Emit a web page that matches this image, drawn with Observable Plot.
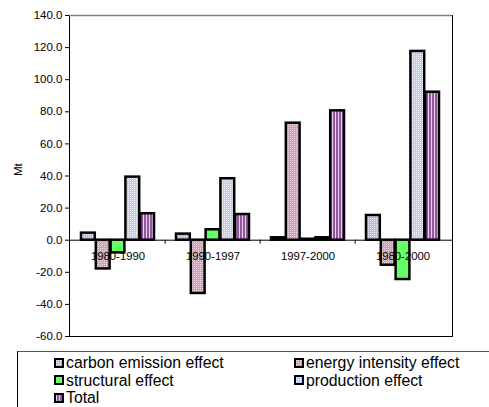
<!DOCTYPE html>
<html>
<head>
<meta charset="utf-8">
<script src="https://cdn.jsdelivr.net/npm/d3@7"></script>
<script src="https://cdn.jsdelivr.net/npm/@observablehq/plot@0.6"></script>
<style>
  body { margin: 0; background: #fff; font-family: Arial, "Liberation Sans", sans-serif; width: 489px; height: 407px; overflow: hidden; position: relative; }
  #chart { position: absolute; left: 0; top: 0; }
  #legend { position: absolute; left: 17px; top: 351px; width: 490px; height: 70px; border-top: 1px solid #555; border-left: 1px solid #000; box-sizing: border-box; padding-top: 2px; font-size: 15.8px; line-height: 17.5px; color: #000; }
  .item { position: absolute; white-space: nowrap; display: flex; align-items: center; }
</style>
</head>
<body>
<div id="chart"></div>
<div id="legend"></div>
<script>
// Decomposition of CO2 emission changes (Mt) by period
const periods = ["1980-1990", "1990-1997", "1997-2000", "1980-2000"];
const effects = ["carbon emission effect", "energy intensity effect", "structural effect", "production effect", "Total"];

const carbonEmission  = [4.4, 3.8, 1.5, 15.4];
const energyIntensity = [-17.9, -33.2, 72.9, -15.6];
const structural      = [-7.9, 6.5, 0.6, -24.5];
const production      = [39.3, 38.3, 1.5, 117.6];
const total           = [16.5, 16.0, 80.6, 92.2];

const yTicks = [-60, -40, -20, 0, 20, 40, 60, 80, 100, 120, 140];

const seriesValues = [carbonEmission, energyIntensity, structural, production, total];
const patternIds = ["pat-carbon", "pat-energy", "pat-struct", "pat-prod", "pat-total"];

// layout
const width = 489, height = 345;
const marginLeft = 69, marginRight = 37, marginTop = 15, marginBottom = 9;
const paddingInner = 0.227;
const step = (width - marginLeft - marginRight) / periods.length;
const barW = step * (1 - paddingInner) / effects.length;

// fill patterns for the bars
function patternDefs() {
  const defs = d3.create("svg:defs");
  const dotted = (id, base, dot) => {
    const p = defs.append("pattern").attr("id", id).attr("patternUnits", "userSpaceOnUse")
      .attr("width", 2).attr("height", 2);
    p.append("rect").attr("width", 2).attr("height", 2).attr("fill", base);
    p.append("rect").attr("width", 1).attr("height", 1).attr("fill", dot);
  };
  dotted("pat-carbon", "#b4b6f0", "#ececff");
  dotted("pat-energy", "#d49cb6", "#f2d6e4");
  dotted("pat-prod", "#b9ccfc", "#f0f4ff");
  const s = defs.append("pattern").attr("id", "pat-struct").attr("patternUnits", "userSpaceOnUse")
    .attr("width", 2).attr("height", 2);
  s.append("rect").attr("width", 2).attr("height", 2).attr("fill", "#66ff66");
  const t = defs.append("pattern").attr("id", "pat-total").attr("patternUnits", "userSpaceOnUse")
    .attr("width", 3).attr("height", 3);
  t.append("rect").attr("width", 3).attr("height", 3).attr("fill", "#9656a0");
  t.append("rect").attr("x", 2).attr("width", 1).attr("height", 3).attr("fill", "#e4cfec");
  return defs.node();
}

const barMarks = effects.map((name, i) =>
  Plot.barY(periods.map((p, j) => ({period: p, value: seriesValues[i][j]})), {
    x: "period",
    y: "value",
    fill: `url(#${patternIds[i]})`,
    stroke: "#000",
    strokeWidth: 2.5,
    insetLeft: i * barW,
    insetRight: (effects.length - 1 - i) * barW
  })
);

const chart = Plot.plot({
  width, height, marginLeft, marginRight, marginTop, marginBottom,
  style: {fontFamily: "Arial, 'Liberation Sans', sans-serif", fontSize: "11.5px", color: "#000", background: "#fff"},
  x: {domain: periods, paddingInner, paddingOuter: paddingInner / 2, axis: null},
  y: {domain: [-60, 140], axis: null},
  marks: [
    patternDefs,
    Plot.frame({stroke: "#000"}),
    Plot.ruleY([140], {stroke: "#808080", strokeWidth: 1.5}),
    Plot.axisY({ticks: yTicks, tickFormat: d => d.toFixed(1), tickSize: 4, tickPadding: 3, label: null, fontSize: 11.5}),
    Plot.text(["Mt"], {frameAnchor: "left", dx: -51, rotate: -90, fontSize: 11.5, fill: "#000"}),
    Plot.ruleY([0], {stroke: "#000"}),
    Plot.ruleX(periods.slice(1), {x: d => d, dx: -step / 2, y1: 0, y2: -2.5, stroke: "#000"}),
    ...barMarks,
    Plot.text(periods, {x: d => d, y: 0, dy: 16, fontSize: 11.3, fill: "#000"})
  ]
});
document.getElementById("chart").append(chart);

// legend below the chart
const legend = document.getElementById("legend");
const legendPos = [[36, 0], [276, 0], [36, 1], [276, 1], [36, 2]];
effects.forEach((name, i) => {
  const item = document.createElement("div");
  item.className = "item";
  item.style.left = legendPos[i][0] + "px";
  item.style.top = (2 + legendPos[i][1] * 17.5) + "px";
  item.style.height = "17.5px";
  const sw = document.createElementNS("http://www.w3.org/2000/svg", "svg");
  sw.setAttribute("width", 10); sw.setAttribute("height", 10);
  sw.style.marginRight = "2px";
  sw.innerHTML = `<rect x="1" y="1" width="8" height="8" fill="url(#${patternIds[i]})" stroke="#000" stroke-width="2"/>`;
  item.append(sw);
  item.append(document.createTextNode(name));
  legend.append(item);
});
</script>
</body>
</html>
